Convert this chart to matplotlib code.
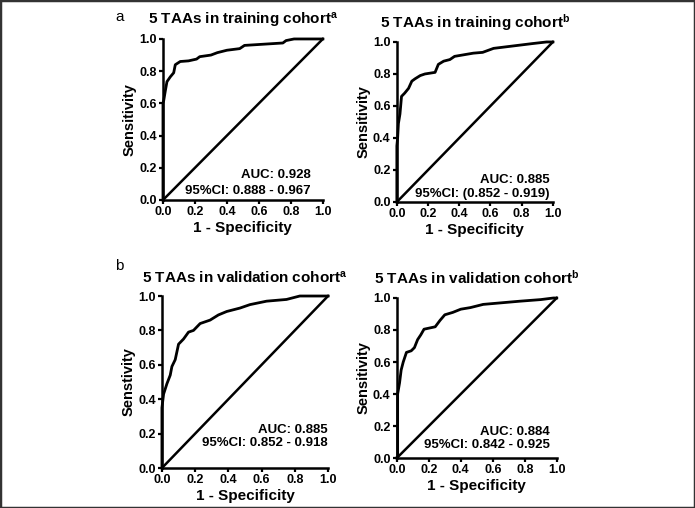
import matplotlib
matplotlib.use('Agg')
import matplotlib.pyplot as plt
from matplotlib.patches import Rectangle

plt.rcParams['font.family'] = 'Liberation Sans'
plt.rcParams['mathtext.fontset'] = 'custom'
plt.rcParams['mathtext.rm'] = 'Liberation Sans:bold'
plt.rcParams['mathtext.it'] = 'Liberation Sans:bold'
plt.rcParams['mathtext.bf'] = 'Liberation Sans:bold'

# ROC curves (1 - specificity, sensitivity)
fpr_train_a = [0.0, 0.0, 0.005, 0.015, 0.025, 0.046, 0.067, 0.077, 0.108, 0.16, 0.21, 0.23,
               0.30, 0.34, 0.40, 0.48, 0.51, 0.75, 0.77, 0.82, 1.0]
tpr_train_a = [0.0, 0.60, 0.62, 0.68, 0.735, 0.765, 0.79, 0.84, 0.86, 0.864, 0.875, 0.89,
               0.90, 0.915, 0.93, 0.94, 0.96, 0.975, 0.99, 1.0, 1.0]

fpr_train_b = [0.0, 0.0, 0.005, 0.01, 0.02, 0.03, 0.05, 0.075, 0.096, 0.117, 0.15, 0.18,
               0.245, 0.266, 0.30, 0.34, 0.37, 0.49, 0.55, 0.62, 0.745, 0.87, 0.96, 1.0]
tpr_train_b = [0.0, 0.35, 0.40, 0.49, 0.55, 0.66, 0.68, 0.71, 0.755, 0.77, 0.79, 0.80,
               0.81, 0.86, 0.88, 0.89, 0.91, 0.93, 0.935, 0.96, 0.975, 0.99, 1.0, 1.0]

fpr_valid_a = [0.0, 0.0, 0.01, 0.03, 0.05, 0.06, 0.08, 0.10, 0.13, 0.16, 0.19, 0.23, 0.29,
               0.34, 0.39, 0.47, 0.53, 0.63, 0.75, 0.83, 1.0]
tpr_valid_a = [0.0, 0.35, 0.43, 0.49, 0.54, 0.59, 0.63, 0.72, 0.75, 0.79, 0.80, 0.84, 0.86,
               0.89, 0.91, 0.93, 0.95, 0.97, 0.98, 1.0, 1.0]

fpr_valid_b = [0.0, 0.005, 0.005, 0.017, 0.027, 0.04, 0.06, 0.09, 0.11, 0.13, 0.15, 0.17,
               0.24, 0.27, 0.30, 0.35, 0.40, 0.46, 0.54, 0.77, 0.90, 0.98, 1.0]
tpr_valid_b = [0.0, 0.0, 0.40, 0.47, 0.55, 0.60, 0.66, 0.67, 0.69, 0.74, 0.77, 0.805,
               0.82, 0.86, 0.895, 0.91, 0.93, 0.94, 0.96, 0.98, 0.99, 1.0, 1.0]

titles = [r'5 TAAs in training cohort$^\mathbf{a}$', r'5 TAAs in training cohort$^\mathbf{b}$',
          r'5 TAAs in validation cohort$^\mathbf{a}$', r'5 TAAs in validation cohort$^\mathbf{b}$']
ylabels = ['Sensitivity', 'Sensitivity', 'Senstivity', 'Sensitivity']
auc_texts = ['AUC: 0.928', 'AUC: 0.885', 'AUC: 0.885', 'AUC: 0.884']
ci_texts = ['95%CI: 0.888 - 0.967', '95%CI: (0.852 - 0.919)',
            '95%CI: 0.852 - 0.918', '95%CI: 0.842 - 0.925']
ticks = [0.0, 0.2, 0.4, 0.6, 0.8, 1.0]

curves = [(fpr_train_a, tpr_train_a), (fpr_train_b, tpr_train_b),
          (fpr_valid_a, tpr_valid_a), (fpr_valid_b, tpr_valid_b)]

# axes rectangles (figure fraction) and text placement in axes coords
rects = [[0.2345, 0.6063, 0.230, 0.317],
         [0.571, 0.6024, 0.2245, 0.315],
         [0.233, 0.0787, 0.239, 0.3386],
         [0.571, 0.0984, 0.230, 0.315]]
text_pos = [(0.925, 0.155, 0.056), (0.98, 0.1375, 0.05),
            (1.0, 0.22, 0.145), (0.956, 0.16, 0.08)]

fig = plt.figure(figsize=(6.95, 5.08), dpi=100)

for i in range(4):
    ax = fig.add_axes(rects[i])
    fpr, tpr = curves[i]
    ax.plot(fpr, tpr, color='black', lw=2.0, clip_on=False)
    ax.plot([0, 1], [0, 1], color='black', lw=1.8, clip_on=False)
    ax.set_xlim(0, 1)
    ax.set_ylim(0, 1)
    ax.set_xticks(ticks)
    ax.set_yticks(ticks)
    ax.set_xticklabels(['%.1f' % t for t in ticks], fontsize=9, fontweight='bold')
    ax.set_yticklabels(['%.1f' % t for t in ticks], fontsize=9, fontweight='bold')
    ax.tick_params(direction='out', length=3, width=1.6, pad=1.5)
    for s in ['top', 'right']:
        ax.spines[s].set_visible(False)
    for s in ['left', 'bottom']:
        ax.spines[s].set_linewidth(1.8)
    ax.set_xlabel('1 - Specificity', fontsize=11, fontweight='bold', labelpad=2)
    ax.set_ylabel(ylabels[i], fontsize=10.5, fontweight='bold', labelpad=2)
    ax.set_title(titles[i], fontsize=11, fontweight='bold', pad=10)
    xr, y1, y2 = text_pos[i]
    ax.text(xr, y1, auc_texts[i], transform=ax.transAxes, ha='right', va='center',
            fontsize=9.5, fontweight='bold')
    ax.text(xr, y2, ci_texts[i], transform=ax.transAxes, ha='right', va='center',
            fontsize=9.5, fontweight='bold')

fig.text(120 / 695, 1 - 17 / 508, 'a', fontsize=11, ha='center', va='center')
fig.text(119 / 695, 1 - 266 / 508, 'b', fontsize=11, ha='center', va='center')

fig.patches.append(Rectangle((0, 0), 1, 1, transform=fig.transFigure, fill=False,
                             edgecolor='#333333', lw=2.5))

fig.savefig('out.png', dpi=100)
